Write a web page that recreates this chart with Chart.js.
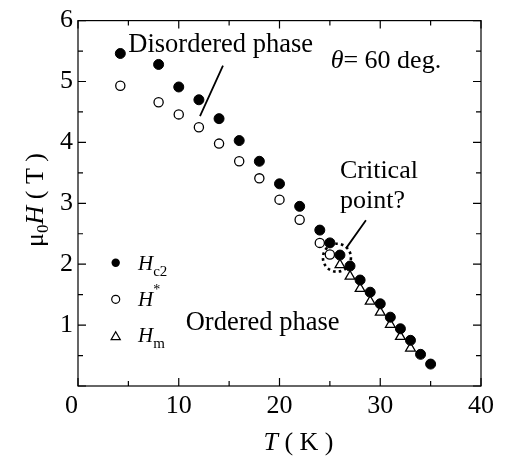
<!DOCTYPE html>
<html>
<head>
    <title>Phase diagram</title>
    <style>
        html, body{
            margin: 0;
            padding: 0;
            background: white;
        }
        #box{
            width: 506px;
            height: 456px;
        }
    </style>
</head>
<body>
<div id="box"><canvas id="phase"></canvas></div>

<script src="https://cdn.jsdelivr.net/npm/chart.js@4.4.0/dist/chart.umd.min.js"></script>
<script>

    // H_c2 (filled circles)
    const tC2 = [4.2, 8, 10, 12, 14, 16, 18, 20, 22, 24, 25, 26, 27, 28, 29, 30, 31, 32, 33, 34, 35];
    const hC2 = [5.46, 5.28, 4.91, 4.70, 4.39, 4.03, 3.69, 3.32, 2.95, 2.56, 2.35, 2.15, 1.97, 1.74, 1.54, 1.35, 1.13, 0.94, 0.75, 0.52, 0.36];

    // H* (open circles)
    const tStar = [4.2, 8, 10, 12, 14, 16, 18, 20, 22, 24, 25];
    const hStar = [4.93, 4.66, 4.46, 4.25, 3.98, 3.69, 3.41, 3.06, 2.73, 2.35, 2.16];

    // H_m (open triangles)
    const tM = [26, 27, 28, 29, 30, 31, 32, 33];
    const hM = [1.99, 1.80, 1.60, 1.39, 1.21, 1.01, 0.81, 0.62];

    const xTicks = [0, 10, 20, 30, 40];
    const yTicks = [0, 1, 2, 3, 4, 5, 6];

    const FONT = '"Liberation Serif", serif';

    function toPoints(xs, ys) {
        return xs.map((x, i) => ({x: x, y: ys[i]}));
    }

    // inward ticks on all four sides + frame
    const frameTicks = {
        id: 'frameTicks',
        afterDraw(chart) {
            const ctx = chart.ctx;
            const a = chart.chartArea;
            const xs = chart.scales.x;
            const ys = chart.scales.y;
            ctx.save();
            ctx.strokeStyle = 'black';
            ctx.lineWidth = 1.2;
            ctx.strokeRect(a.left, a.top, a.right - a.left, a.bottom - a.top);
            ctx.beginPath();
            for (let v = xs.min; v <= xs.max; v += 5) {
                const px = xs.getPixelForValue(v);
                const len = (v % 10 === 0) ? 8 : 5;
                ctx.moveTo(px, a.bottom); ctx.lineTo(px, a.bottom - len);
                ctx.moveTo(px, a.top); ctx.lineTo(px, a.top + len);
            }
            for (let v = ys.min; v <= ys.max; v += 0.5) {
                const py = ys.getPixelForValue(v);
                const len = (v % 1 === 0) ? 8 : 5;
                ctx.moveTo(a.left, py); ctx.lineTo(a.left + len, py);
                ctx.moveTo(a.right, py); ctx.lineTo(a.right - len, py);
            }
            ctx.stroke();
            ctx.restore();
        }
    };

    // text parts: [text, style, dy, size]
    function drawParts(ctx, parts, x, y) {
        let cx = x;
        parts.forEach(p => {
            ctx.font = (p[1] ? p[1] + ' ' : '') + p[3] + 'px ' + FONT;
            ctx.fillText(p[0], cx, y + (p[2] || 0));
            cx += ctx.measureText(p[0]).width;
        });
    }
    function partsWidth(ctx, parts) {
        let w = 0;
        parts.forEach(p => {
            ctx.font = (p[1] ? p[1] + ' ' : '') + p[3] + 'px ' + FONT;
            w += ctx.measureText(p[0]).width;
        });
        return w;
    }

    const annotations = {
        id: 'annotations',
        afterDraw(chart) {
            const ctx = chart.ctx;
            const xs = chart.scales.x;
            const ys = chart.scales.y;
            const X = v => xs.getPixelForValue(v);
            const Y = v => ys.getPixelForValue(v);
            ctx.save();
            ctx.fillStyle = 'black';
            ctx.strokeStyle = 'black';
            ctx.textBaseline = 'alphabetic';
            ctx.textAlign = 'left';

            // region labels
            drawParts(ctx, [['Disordered phase', '', 0, 26.5]], X(4.99), Y(5.49));
            drawParts(ctx, [['Ordered phase', '', 0, 26.5]], X(10.69), Y(0.915));
            drawParts(ctx, [['\u03B8', 'italic', 0, 26], ['= 60 deg.', '', 0, 26]], X(25.08), Y(5.22));
            drawParts(ctx, [['Critical', '', 0, 26]], X(26.0), Y(3.42));
            drawParts(ctx, [['point?', '', 0, 26]], X(26.0), Y(2.93));

            // leader lines
            ctx.lineWidth = 1.8;
            ctx.beginPath();
            ctx.moveTo(X(14.39), Y(5.26)); ctx.lineTo(X(12.11), Y(4.43));
            ctx.moveTo(X(28.58), Y(2.72)); ctx.lineTo(X(26.6), Y(2.26));
            ctx.stroke();

            // dotted circle round the critical point
            ctx.lineWidth = 2.6;
            ctx.setLineDash([2.6, 3.2]);
            ctx.beginPath();
            ctx.arc(X(25.7), Y(2.107), 14, 0, Math.PI * 2);
            ctx.stroke();
            ctx.setLineDash([]);

            // legend
            const lx = 115.7, tx = 138;
            const rows = [262.7, 299.3, 336.7];
            ctx.lineWidth = 1.2;
            ctx.beginPath(); ctx.arc(lx, rows[0], 4.2, 0, Math.PI * 2); ctx.fill();
            ctx.beginPath(); ctx.arc(lx, rows[1], 4.0, 0, Math.PI * 2); ctx.stroke();
            ctx.beginPath();
            ctx.moveTo(lx, rows[2] - 5); ctx.lineTo(lx + 4.6, rows[2] + 3); ctx.lineTo(lx - 4.6, rows[2] + 3);
            ctx.closePath(); ctx.stroke();
            drawParts(ctx, [['H', 'italic', 0, 21], ['c2', '', 6, 15]], tx, rows[0] + 7.5);
            drawParts(ctx, [['H', 'italic', 0, 21], ['*', '', -12, 14]], tx, rows[1] + 6.5);
            drawParts(ctx, [['H', 'italic', 0, 21], ['m', '', 6, 15]], tx, rows[2] + 5.5);

            // x axis title
            const xt = [['T', 'italic', 0, 26], [' ( K )', '', 0, 26]];
            drawParts(ctx, xt, 298.5 - partsWidth(ctx, xt) / 2, 450);

            // y axis title, rotated
            const yt = [['\u03BC', '', 0, 26], ['0', '', 5, 17], ['H', 'italic', 0, 26], [' ( T )', '', 0, 26]];
            ctx.translate(43, 200);
            ctx.rotate(-Math.PI / 2);
            drawParts(ctx, yt, -partsWidth(ctx, yt) / 2, 0);
            ctx.restore();
        }
    };

    function drawChart() {
        new Chart('phase', {
            type: 'scatter',
            data: {
                datasets: [{
                    label: 'Hc2',
                    data: toPoints(tC2, hC2),
                    pointStyle: 'circle',
                    pointRadius: 5,
                    backgroundColor: 'black',
                    borderColor: 'black',
                    borderWidth: 1
                }, {
                    label: 'H*',
                    data: toPoints(tStar, hStar),
                    pointStyle: 'circle',
                    pointRadius: 4.6,
                    backgroundColor: 'white',
                    borderColor: 'black',
                    borderWidth: 1.3
                }, {
                    label: 'Hm',
                    data: toPoints(tM, hM),
                    pointStyle: 'triangle',
                    pointRadius: 5.6,
                    backgroundColor: 'white',
                    borderColor: 'black',
                    borderWidth: 1.3
                }]
            },
            options: {
                responsive: true,
                maintainAspectRatio: false,
                animation: false,
                events: [],
                layout: { padding: { top: 19, right: 25, left: 0, bottom: 0 } },
                plugins: {
                    legend: { display: false },
                    tooltip: { enabled: false },
                    title: { display: false }
                },
                scales: {
                    x: {
                        type: 'linear',
                        min: 0,
                        max: 40,
                        afterBuildTicks: s => { s.ticks = xTicks.map(v => ({value: v})); },
                        afterFit: s => { s.height = 70; },
                        grid: { display: false, drawTicks: false },
                        border: { display: false },
                        ticks: {
                            color: 'black',
                            padding: 5,
                            maxRotation: 0,
                            font: { family: FONT, size: 26 },
                            // the origin label sits a little left of the axis in the original
                            callback: v => (v === 0 ? '0\u2002' : v)
                        }
                    },
                    y: {
                        type: 'linear',
                        min: 0,
                        max: 6,
                        afterBuildTicks: s => { s.ticks = yTicks.map(v => ({value: v})); },
                        afterFit: s => { s.width = 78; },
                        grid: { display: false, drawTicks: false },
                        border: { display: false },
                        ticks: {
                            color: 'black',
                            padding: 5,
                            font: { family: FONT, size: 26 },
                            callback: v => (v === 0 ? '' : v)
                        }
                    }
                }
            },
            plugins: [frameTicks, annotations]
        });
    }

    Promise.all([
        document.fonts.load('26px "Liberation Serif"'),
        document.fonts.load('italic 26px "Liberation Serif"')
    ]).then(drawChart, drawChart);

</script>
</body>
</html>
